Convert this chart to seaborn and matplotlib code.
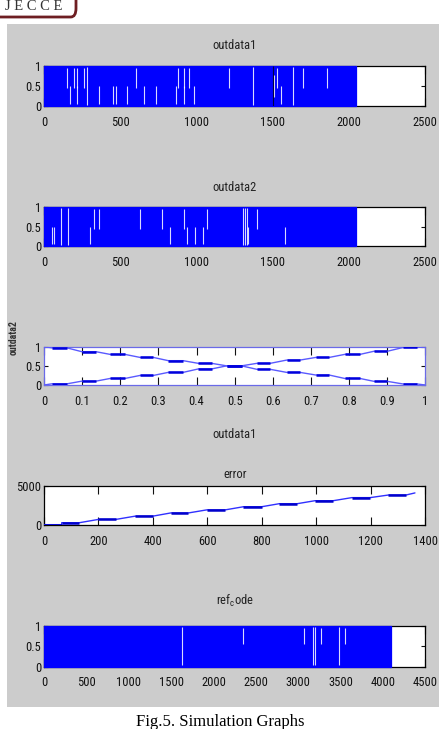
import numpy as np
import pandas as pd
import matplotlib
matplotlib.use("Agg")
import matplotlib.pyplot as plt
import seaborn as sns
from matplotlib import font_manager as fm
from matplotlib.patches import Rectangle, FancyBboxPatch

# ---------------- data ----------------
# panel 1 : outdata1 (binary stream, 2048 samples) - white gaps
n_out1 = 2048
gaps1_top = [149, 197, 214, 262, 603, 876, 920, 953, 1215, 1526, 1696, 1853]
gaps1_bottom = [170, 214, 361, 450, 472, 546, 656, 734, 866, 920, 984, 1552]
gaps1_full = [284, 1368, 1631]
gaps1_mid = [1508]
gaps1_dark = [1499]
xt1 = [0, 500, 1000, 1500, 2000, 2500]

# panel 2 : outdata2
n_out2 = 2048
gaps2_top = [330, 361, 629, 776, 918, 1067, 1399]
gaps2_bottom = [50, 66, 302, 826, 935, 990, 1040, 1340, 1580]
gaps2_full = [111, 160, 1307, 1318, 1328]
xt2 = [0, 500, 1000, 1500, 2000, 2500]

# panel 3 : outdata2 vs outdata1 (two crossing staircase lines)
step3_x0 = [0.02, 0.099, 0.173, 0.252, 0.326, 0.405, 0.479, 0.558, 0.636, 0.713, 0.789, 0.865, 0.942]
step3_x1 = [0.06, 0.136, 0.212, 0.287, 0.365, 0.440, 0.518, 0.593, 0.671, 0.748, 0.829, 0.900, 0.979]
down3_y = [0.97, 0.87, 0.80, 0.72, 0.635, 0.565, 0.50, 0.41, 0.33, 0.26, 0.17, 0.096, 0.026]
up3_y = [0.03, 0.10, 0.17, 0.25, 0.33, 0.42, 0.50, 0.565, 0.65, 0.72, 0.80, 0.88, 0.98]
line3_x_ends = [0.0, 1.0]
down3_y_ends = [1.0, 0.0]
up3_y_ends = [0.0, 1.0]
xt3 = [0, 0.1, 0.2, 0.3, 0.4, 0.5, 0.6, 0.7, 0.8, 0.9, 1]
xt3_labels = ["0", "0.1", "0.2", "0.3", "0.4", "0.5", "0.6", "0.7", "0.8", "0.9", "1"]

# panel 4 : error (staircase ramp)
err_x0 = [0, 65, 200, 334, 465, 597, 732, 864, 995, 1130, 1264]
err_x1 = [65, 130, 264, 399, 530, 665, 799, 930, 1062, 1197, 1329]
err_y = [80, 330, 750, 1160, 1570, 1960, 2360, 2750, 3130, 3520, 3850]
err_end_x = 1362
err_end_y = 4120
xt4 = [0, 200, 400, 600, 800, 1000, 1200, 1400]
yt4 = [0, 5000]

# panel 5 : ref_code (4096 samples)
n_ref = 4096
gaps5_top = [2344, 3072, 3265, 3556]
gaps5_full = [1625, 3178, 3202, 3485]
xt5 = [0, 500, 1000, 1500, 2000, 2500, 3000, 3500, 4000, 4500]

yt_bin = [0, 0.5, 1]
yt_bin_labels = ["0", "0.5", "1"]

titles = ["outdata1", "outdata2", "error", r"ref$_{\mathrm{c}}$ode"]
xlabel3 = "outdata1"
ylabel3 = "outdata2"
caption = "Fig.5. Simulation Graphs"
logo = "JECCE"

# ---------------- style ----------------
sns.set_style("ticks")
names = {f.name for f in fm.fontManager.ttflist}
NARROW = next((n for n in ["Liberation Sans Narrow", "DejaVu Sans Condensed",
                           "Roboto Condensed", "Liberation Sans"] if n in names), "DejaVu Sans")
plt.rcParams["font.family"] = [NARROW, "DejaVu Sans"]
plt.rcParams["mathtext.fontset"] = "custom"
plt.rcParams["mathtext.rm"] = NARROW
plt.rcParams["mathtext.it"] = NARROW
SERIF = "Liberation Serif"

BLUE = "#0000ff"
TICK_FS = 9
TITLE_FS = 9

W, H = 441, 729
fig = plt.figure(figsize=(W / 100, H / 100), dpi=100, facecolor="white")


def px_rect(x0, y0, x1, y1):
    return [x0 / W, 1 - y1 / H, (x1 - x0) / W, (y1 - y0) / H]


# grey MATLAB figure area
fig.add_artist(Rectangle((7 / W, 1 - 707 / H), (439 - 7) / W, (707 - 24) / H,
                         transform=fig.transFigure, fc="#cccccc", ec="none", zorder=-10))

# logo (partially cut at top)
fig.add_artist(FancyBboxPatch((-6 / W, 1 - 17 / H), 82 / W, 30 / H,
                              boxstyle="round,pad=0,rounding_size=0.012",
                              transform=fig.transFigure, fc="white", ec="#6e1e22",
                              lw=2.0, zorder=-5))
fig.text(34 / W, 1 - 6.5 / H, " ".join(logo), family=SERIF, fontsize=10.5, color="#333333",
         ha="center", va="center")

# caption
fig.text(220.5 / W, 1 - 722 / H, caption, family=SERIF, fontsize=12, color="black",
         ha="center", va="center")

axes_px = [(44, 66, 425.3, 106), (44, 207.3, 425.3, 246), (44, 346.7, 425.3, 385),
           (44, 486, 425.3, 525.3), (44, 626, 425.3, 666.7)]
axs = [fig.add_axes(px_rect(*p)) for p in axes_px]


def style_axis(ax, xticks, xlabels, yticks, ylabels, xlim, ylim, spine_color="black"):
    ax.set_facecolor("white")
    ax.set_xlim(*xlim)
    ax.set_ylim(*ylim)
    ax.set_xticks(xticks)
    ax.set_xticklabels(xlabels)
    ax.set_yticks(yticks)
    ax.set_yticklabels(ylabels)
    ax.tick_params(axis="x", direction="in", top=True, bottom=True, length=5.5,
                   width=0.8, pad=7, labelsize=TICK_FS, colors="#111111")
    ax.tick_params(axis="y", direction="in", left=True, right=True, length=3,
                   width=0.8, pad=2, labelsize=TICK_FS, colors="#111111")
    for s in ax.spines.values():
        s.set_visible(True)
        s.set_linewidth(0.9)
        s.set_color(spine_color)
    ax.set_xlabel("")
    ax.set_ylabel("")


def binary_panel(ax, n, xmax, xticks, top, bottom, full, mid=(), dark=(), top_lo=0.45):
    ax.fill_between([0, n], 0, 1, color=BLUE, ec=BLUE, lw=0.9, zorder=3, clip_on=False)
    gap_kw = dict(colors="white", lw=0.8, alpha=0.85, zorder=4)
    if len(top):
        ax.vlines(top, top_lo, 0.96, **gap_kw)
    if len(bottom):
        ax.vlines(bottom, 0.04, 0.5, **gap_kw)
    if len(full):
        ax.vlines(full, 0.03, 0.97, **gap_kw)
    if len(mid):
        ax.vlines(mid, 0.23, 0.78, **gap_kw)
    if len(dark):
        ax.vlines(dark, 0.0, 1.0, colors="#000044", lw=0.8, zorder=4)
    style_axis(ax, xticks, [str(v) for v in xticks], yt_bin, yt_bin_labels,
               (0, xmax), (0, 1))


# panel 1
binary_panel(axs[0], n_out1, xt1[-1], xt1, gaps1_top, gaps1_bottom, gaps1_full,
             gaps1_mid, gaps1_dark)
axs[0].set_title(titles[0], fontsize=TITLE_FS, y=1.5, pad=0, va="center", color="#222222")

# panel 2
binary_panel(axs[1], n_out2, xt2[-1], xt2, gaps2_top, gaps2_bottom, gaps2_full)
axs[1].set_title(titles[1], fontsize=TITLE_FS, y=1.5, pad=0, va="center", color="#222222")

# panel 3
ax = axs[2]


def stair_line(x0s, x1s, ys, xe, ye):
    xs, yv = [xe[0]], [ye[0]]
    for a, b, y in zip(x0s, x1s, ys):
        xs += [a, b]
        yv += [y, y]
    xs.append(xe[1])
    yv.append(ye[1])
    return pd.DataFrame({"x": xs, "y": yv})


for ys, ends in [(down3_y, down3_y_ends), (up3_y, up3_y_ends)]:
    d = stair_line(step3_x0, step3_x1, ys, line3_x_ends, ends)
    sns.lineplot(data=d, x="x", y="y", ax=ax, color="#5a5aff", lw=1.0, sort=False,
                 estimator=None, zorder=3)
    ax.hlines(ys, step3_x0, step3_x1, colors="#0000dd", lw=1.8, zorder=4)
style_axis(ax, xt3, xt3_labels, yt_bin, yt_bin_labels, (0, 1), (0, 1), spine_color="#6a6ae8")
ax.set_xlabel(xlabel3, fontsize=TITLE_FS, color="#222222")
ax.xaxis.set_label_coords(0.5, -1.305)
ax.xaxis.label.set_verticalalignment("center")
ax.set_ylabel(ylabel3, fontsize=7, fontweight="bold", color="#333333")
ax.yaxis.set_label_coords(-0.079, 1.24)
ax.yaxis.label.set_verticalalignment("center")

# panel 4
ax = axs[3]
d4 = stair_line(err_x0, err_x1, err_y, [0, err_end_x], [0, err_end_y])
sns.lineplot(data=d4, x="x", y="y", ax=ax, color="#3030ff", lw=1.0, sort=False,
             estimator=None, zorder=3)
ax.hlines(err_y, err_x0, err_x1, colors="#0000cc", lw=1.8, zorder=4)
style_axis(ax, xt4, [str(v) for v in xt4], yt4, [str(v) for v in yt4],
           (0, xt4[-1]), (0, yt4[-1]))
ax.set_title(titles[2], fontsize=TITLE_FS, y=1.28, pad=0, va="center", color="#222222")

# panel 5
binary_panel(axs[4], n_ref, xt5[-1], xt5, gaps5_top, [], gaps5_full, top_lo=0.55)
axs[4].set_title(titles[3], fontsize=TITLE_FS, y=1.61, pad=0, va="center", color="#222222")

fig.savefig("out.png", dpi=100, facecolor="white")
